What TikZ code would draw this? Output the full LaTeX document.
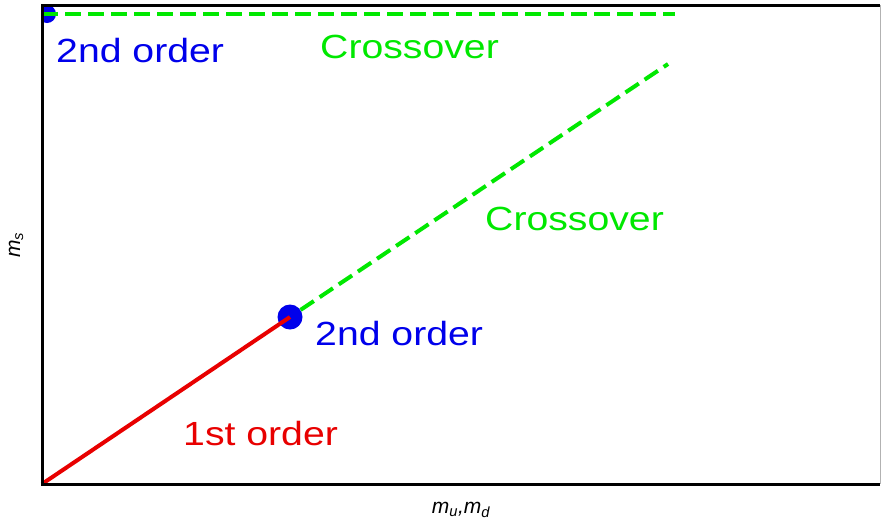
\documentclass[tikz,border=0pt]{standalone}
\usepackage{fontspec}
\setmainfont{Liberation Sans}
\begin{document}
\begin{tikzpicture}[x=1pt,y=-1pt,
  frame/.style={line width=3pt,black},
  lbl/.style={inner sep=0pt,anchor=base west,xscale=1.17,font=\fontsize{33.5}{40}\selectfont},
  dotb/.style={circle,fill=cblue,inner sep=0pt},
  crossline/.style={draw=cgreen,line width=4pt,dash pattern=on 16pt off 7pt},
  firstline/.style={draw=cred,line width=4pt},
  axlbl/.style={inner sep=0pt,font=\fontsize{21}{24}\selectfont\itshape}]
\definecolor{cblue}{RGB}{0,0,235}
\definecolor{cgreen}{RGB}{0,232,0}
\definecolor{cred}{RGB}{232,0,0}
\useasboundingbox (0,0) rectangle (882,523);
\fill[white] (0,0) rectangle (882,523);
% coordinates
\coordinate (O) at (42,484);
\coordinate (TL) at (42,5);
\coordinate (TR) at (880,5);
\coordinate (BR) at (880,484);
\coordinate (topstart) at (42,14);
\coordinate (topend) at (675,14);
\coordinate (diagend) at (668,64);
% right border
\draw[gray!60,line width=1pt] (TR) -- (BR);
% top-left dot (clipped by the axis)
\begin{scope}
\clip (42,0) rectangle (80,40);
\node[dotb,minimum size=18pt] (dottop) at (47,14) {};
\end{scope}
% middle dot
\node[dotb,minimum size=25pt] (dotmid) at (290,317) {};
% lines
\draw[firstline] (O) -- (dotmid.center);
\draw[crossline] (dotmid) -- (diagend);
\draw[crossline] (topstart) -- (topend);
% frame
\draw[frame] (BR) -- (O) -- (TL) -- (TR);
% labels
\node[lbl,text=cblue] (l2top) at (56,62) {2nd order};
\node[lbl,text=cgreen] (lctop) at (320,58) {Crossover};
\node[lbl,text=cgreen] (lcmid) at (485,230) {Crossover};
\node[lbl,text=cblue] (l2mid) at (315,345) {2nd order};
\node[lbl,text=cred] (l1) at (183,445) {1st order};
\node[axlbl,rotate=90] (ylab) at (16,245) {m\textsubscript{s}};
\node[axlbl] (xlab) at (461,510) {m\textsubscript{u},m\textsubscript{d}};
\end{tikzpicture}
\end{document}
